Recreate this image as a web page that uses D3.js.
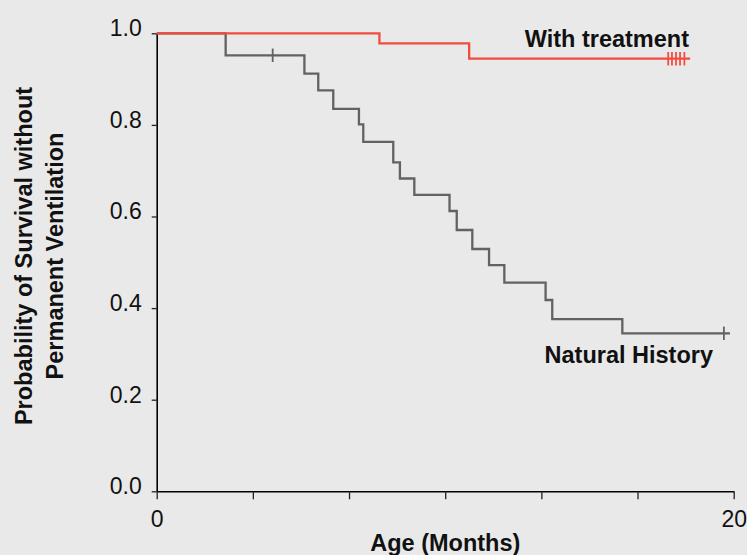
<!DOCTYPE html>
<html>
<head>
<meta charset="utf-8">
<script src="https://cdn.jsdelivr.net/npm/d3@7"></script>
<style>
  html, body { margin: 0; padding: 0; background: #e9e9e9; }
  svg { display: block; }
  text { font-family: 'Liberation Sans', Arial, Helvetica, sans-serif; fill: #111; }
</style>
</head>
<body>
<svg id="chart" width="747" height="555"></svg>
<script>
// ---- Data ----
const xTickValues = [0, 20/6, 40/6, 10, 80/6, 100/6, 20];
const xTickLabels = ["0", "", "", "", "", "", "20"];
const yTickValues = [0, 0.2, 0.4, 0.6, 0.8, 1.0];
const yTickLabels = ["0.0", "0.2", "0.4", "0.6", "0.8", "1.0"];

// Natural History (Kaplan-Meier steps)
const naturalTimes = [0, 2.39, 5.12, 5.60, 6.12, 7.01, 7.16, 8.20, 8.43, 8.93, 10.15, 10.40, 10.94, 11.52, 12.05, 13.48, 13.71, 16.14];
const naturalSurv  = [1.0, 0.952, 0.912, 0.8755, 0.835, 0.801, 0.763, 0.718, 0.683, 0.647, 0.612, 0.5705, 0.529, 0.494, 0.4555, 0.4177, 0.376, 0.345];
const naturalEnd = 19.87;
const naturalCensor = [4.02, 19.66];

// With treatment
const treatTimes = [0, 7.72, 10.83];
const treatSurv  = [1.0, 0.978, 0.9445];
const treatEnd = 18.49;
const treatCensor = [17.73, 17.86, 18.0, 18.14, 18.29];

const seriesLabels = ["Natural History", "With treatment"];
const xTitle = "Age (Months)";
const yTitleLines = ["Probability of Survival without", "Permanent Ventilation"];

// ---- Layout ----
const svg = d3.select("#chart");
const x = d3.scaleLinear().domain([0, 20]).range([156.7, 733.7]);
const y = d3.scaleLinear().domain([0, 1]).range([491.3, 33.3]);

// Axes
const gx = svg.append("g").attr("transform", `translate(0,${y(0)})`)
  .call(d3.axisBottom(x).tickValues(xTickValues).tickSize(8).tickSizeOuter(0)
    .tickFormat((d, i) => xTickLabels[i]));
gx.select(".domain").attr("stroke", "#000").attr("stroke-width", 1.6);
gx.selectAll(".tick line").attr("stroke", "#222").attr("stroke-width", 1.3);
gx.selectAll(".tick text").attr("font-size", 23).attr("dy", 0).attr("y", 36)
  .style("font-family", "'Liberation Sans', Arial, sans-serif").attr("fill", "#111");

const gy = svg.append("g").attr("transform", `translate(${x(0)},0)`)
  .call(d3.axisLeft(y).tickValues(yTickValues).tickSize(5).tickSizeOuter(0)
    .tickFormat((d, i) => yTickLabels[i]));
gy.select(".domain").attr("stroke", "#000").attr("stroke-width", 1.6);
gy.selectAll(".tick line").attr("stroke", "#222").attr("stroke-width", 1.3);
gy.selectAll(".tick text").attr("font-size", 23).attr("x", -15).attr("dy", "0.1em")
  .style("font-family", "'Liberation Sans', Arial, sans-serif").attr("fill", "#111");
gy.attr("font-family", null);
gx.attr("font-family", null);

// Step curves
const line = d3.line().x(d => x(d[0])).y(d => y(d[1])).curve(d3.curveStepAfter);

function stepPoints(times, surv, end) {
  const pts = times.map((t, i) => [t, surv[i]]);
  pts.push([end, surv[surv.length - 1]]);
  return pts;
}
function survAt(times, surv, t) {
  let v = surv[0];
  times.forEach((tt, i) => { if (tt <= t) v = surv[i]; });
  return v;
}

function drawSeries(times, surv, end, censor, color, width) {
  svg.append("path")
    .datum(stepPoints(times, surv, end))
    .attr("d", line)
    .attr("fill", "none")
    .attr("stroke", color)
    .attr("stroke-width", width);
  svg.append("g").selectAll("line").data(censor).join("line")
    .attr("x1", d => x(d)).attr("x2", d => x(d))
    .attr("y1", d => y(survAt(times, surv, d)) - 6.7)
    .attr("y2", d => y(survAt(times, surv, d)) + 6.7)
    .attr("stroke", color).attr("stroke-width", 1.8);
}

drawSeries(naturalTimes, naturalSurv, naturalEnd, naturalCensor, "#626262", 2.3);
drawSeries(treatTimes, treatSurv, treatEnd, treatCensor, "#f24c40", 2.3);

// Series labels
svg.append("text").attr("x", 689).attr("y", 47).attr("text-anchor", "end")
  .attr("font-size", 23.5).attr("font-weight", "bold").text(seriesLabels[1]);
svg.append("text").attr("x", 713).attr("y", 363).attr("text-anchor", "end")
  .attr("font-size", 23.5).attr("font-weight", "bold").text(seriesLabels[0]);

// Axis titles
svg.append("text").attr("x", 445.3).attr("y", 551).attr("text-anchor", "middle")
  .attr("font-size", 23.5).attr("font-weight", "bold").text(xTitle);

const yt = svg.append("text").attr("transform", "translate(0,256) rotate(-90)")
  .attr("text-anchor", "middle").attr("font-size", 23.5).attr("font-weight", "bold");
yt.append("tspan").attr("x", 0).attr("y", 31.7).text(yTitleLines[0]);
yt.append("tspan").attr("x", 0).attr("y", 63.3).text(yTitleLines[1]);
</script>
</body>
</html>
